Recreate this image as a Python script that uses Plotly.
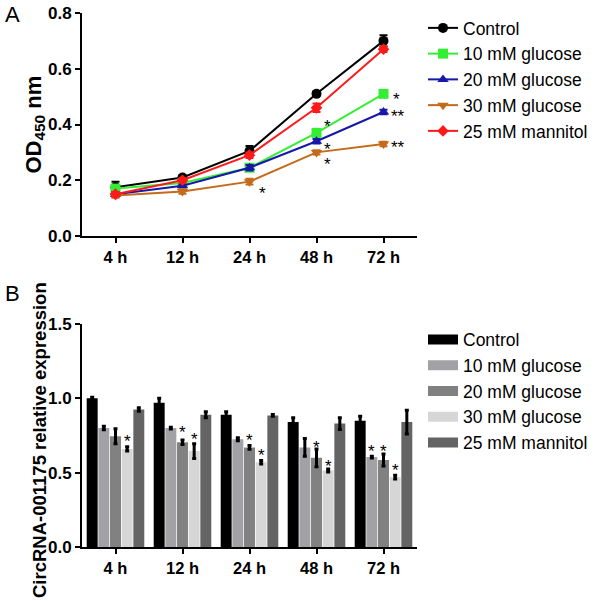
import plotly.graph_objects as go

# ---------------- data ----------------
times = ["4 h", "12 h", "24 h", "48 h", "72 h"]
groups = ["Control", "10 mM glucose", "20 mM glucose", "30 mM glucose", "25 mM mannitol"]

# Panel A: OD450
od_control = [0.175, 0.21, 0.305, 0.51, 0.70]
od_control_err = [0.02, 0.008, 0.018, 0.008, 0.02]
od_glu10 = [0.17, 0.19, 0.245, 0.37, 0.51]
od_glu10_err = [0.01, 0.005, 0.01, 0.008, 0.008]
od_glu20 = [0.15, 0.18, 0.245, 0.34, 0.445]
od_glu20_err = [0.008, 0.005, 0.01, 0.008, 0.008]
od_glu30 = [0.145, 0.16, 0.195, 0.30, 0.33]
od_glu30_err = [0.008, 0.008, 0.01, 0.008, 0.008]
od_mannitol = [0.15, 0.20, 0.29, 0.46, 0.67]
od_mannitol_err = [0.008, 0.008, 0.01, 0.015, 0.01]

# Panel B: CircRNA-001175 relative expression
ex_control = [1.00, 0.97, 0.89, 0.84, 0.85]
ex_control_err = [0.008, 0.03, 0.02, 0.03, 0.03]
ex_glu10 = [0.80, 0.80, 0.725, 0.67, 0.605]
ex_glu10_err = [0.012, 0.006, 0.01, 0.06, 0.006]
ex_glu20 = [0.745, 0.705, 0.67, 0.60, 0.585]
ex_glu20_err = [0.05, 0.015, 0.012, 0.06, 0.04]
ex_glu30 = [0.66, 0.645, 0.57, 0.515, 0.47]
ex_glu30_err = [0.015, 0.05, 0.012, 0.01, 0.012]
ex_mannitol = [0.925, 0.89, 0.885, 0.83, 0.84]
ex_mannitol_err = [0.012, 0.02, 0.006, 0.04, 0.08]

# significance marks: (time index, x offset in category units, y value, text)
sig_a = [(2, 0.19, 0.172, "*"), (3, 0.16, 0.409, "*"), (3, 0.16, 0.330, "*"),
         (3, 0.17, 0.273, "*"), (4, 0.19, 0.509, "*"), (4, 0.22, 0.445, "**"),
         (4, 0.22, 0.337, "**")]
# (time index, group index, y value)
sig_b = [(0, 3, 0.746), (1, 2, 0.807), (1, 3, 0.760), (2, 2, 0.753), (2, 3, 0.646),
         (3, 2, 0.706), (3, 3, 0.572), (4, 1, 0.679), (4, 2, 0.679), (4, 3, 0.545)]

# ---------------- styles ----------------
line_colors = ["#000000", "#33ee33", "#1717a8", "#c46b1b", "#ff1a1a"]
symbols = ["circle", "square", "triangle-up", "triangle-down", "diamond"]
msizes = [10, 10, 10, 10, 9]
bar_colors = ["#000000", "#a2a2a6", "#818181", "#d6d6d6", "#646464"]
FONT = "Liberation Sans, Arial, sans-serif"

W, H = 600, 601
BARGAP = 0.13

fig = go.Figure()

od_vals = [od_control, od_glu10, od_glu20, od_glu30, od_mannitol]
od_errs = [od_control_err, od_glu10_err, od_glu20_err, od_glu30_err, od_mannitol_err]
for i, g in enumerate(groups):
    fig.add_trace(go.Scatter(
        x=times, y=od_vals[i], name=g, mode="lines+markers",
        line=dict(color=line_colors[i], width=2),
        marker=dict(symbol=symbols[i], size=msizes[i], color=line_colors[i]),
        error_y=dict(type="data", array=od_errs[i], color=line_colors[i], thickness=2, width=4),
        xaxis="x", yaxis="y", legend="legend", legendgroup="a%d" % i,
    ))

ex_vals = [ex_control, ex_glu10, ex_glu20, ex_glu30, ex_mannitol]
ex_errs = [ex_control_err, ex_glu10_err, ex_glu20_err, ex_glu30_err, ex_mannitol_err]
for i, g in enumerate(groups):
    fig.add_trace(go.Bar(
        x=times, y=ex_vals[i], name=g, marker=dict(color=bar_colors[i], line=dict(width=0)),
        error_y=dict(type="data", array=ex_errs[i], color="black", thickness=3, width=2),
        xaxis="x2", yaxis="y2", showlegend=False,
    ))
# legend proxies for the bar panel (wide rectangles)
for i, g in enumerate(groups):
    fig.add_trace(go.Scatter(
        x=[None], y=[None], name=g, mode="lines",
        line=dict(color=bar_colors[i], width=14),
        xaxis="x2", yaxis="y2", legend="legend2", legendgroup="b%d" % i,
    ))

annotations = []
for t, dx, yv, txt in sig_a:
    annotations.append(dict(x=t + dx, y=yv, xref="x", yref="y", text=txt, showarrow=False,
                            font=dict(family=FONT, size=17, color="black"),
                            xanchor="center", yanchor="middle", yshift=-5))
nb = len(groups)
bw = (1 - BARGAP) / nb
for t, gi, yv in sig_b:
    xoff = -(1 - BARGAP) / 2 + (gi + 0.5) * bw
    annotations.append(dict(x=t + xoff, y=yv, xref="x2", yref="y2", text="*", showarrow=False,
                            font=dict(family=FONT, size=17, color="black"),
                            xanchor="center", yanchor="middle", yshift=-5))

annotations += [
    dict(text="A", x=12 / W, y=1 - 15 / H, xref="paper", yref="paper", showarrow=False,
         font=dict(family=FONT, size=22, color="black"), xanchor="center", yanchor="middle"),
    dict(text="B", x=12 / W, y=1 - 293 / H, xref="paper", yref="paper", showarrow=False,
         font=dict(family=FONT, size=22, color="black"), xanchor="center", yanchor="middle"),
    dict(text="<b>OD<sub>450</sub> nm</b>", x=34 / W, y=1 - 124.5 / H, xref="paper", yref="paper",
         showarrow=False, textangle=-90, font=dict(family=FONT, size=22, color="black"),
         xanchor="center", yanchor="middle"),
    dict(text="<b>CircRNA-001175 relative expression</b>", x=39 / W, y=1 - 440 / H,
         xref="paper", yref="paper", showarrow=False, textangle=-90,
         font=dict(family=FONT, size=18.5, color="black"), xanchor="center", yanchor="middle"),
]

line_common = dict(showline=True, linewidth=2, linecolor="black", ticks="outside",
                   ticklen=5, tickwidth=2, tickcolor="black", showgrid=False, zeroline=False,
                   automargin=False)
xfont = dict(family=FONT, size=16.5, color="black", weight="bold")
yfont = dict(family=FONT, size=17, color="black", weight="bold")

fig.update_layout(
    width=W, height=H, margin=dict(l=0, r=0, t=0, b=0, autoexpand=False),
    paper_bgcolor="white", plot_bgcolor="white",
    font=dict(family=FONT, color="black"),
    barmode="group", bargap=BARGAP, bargroupgap=0.06,
    xaxis=dict(domain=[82 / W, 417 / W], anchor="y", type="category", range=[-0.5, 4.5],
               tickfont=xfont, **line_common),
    yaxis=dict(domain=[1 - 236 / H, 1 - 13 / H], anchor="x", range=[0, 0.8], dtick=0.2,
               tickformat=".1f", tickfont=yfont, **line_common),
    xaxis2=dict(domain=[82 / W, 417 / W], anchor="y2", type="category", range=[-0.5, 4.5],
                tickfont=xfont, **line_common),
    yaxis2=dict(domain=[1 - 547 / H, 1 - 324 / H], anchor="x2", range=[0, 1.5], dtick=0.5,
                tickformat=".1f", tickfont=yfont, **line_common),
    legend=dict(x=423 / W, y=1 - 10 / H, xanchor="left", yanchor="top",
                font=dict(family=FONT, size=17.5, color="black"), tracegroupgap=0,
                bgcolor="rgba(0,0,0,0)", traceorder="grouped"),
    legend2=dict(x=423 / W, y=1 - 321.5 / H, xanchor="left", yanchor="top",
                 font=dict(family=FONT, size=17.5, color="black"), tracegroupgap=0,
                 bgcolor="rgba(0,0,0,0)", traceorder="grouped"),
    annotations=annotations,
    showlegend=True,
)

fig.write_html("out.html", config={"displayModeBar": False},
               post_script="document.body.style.margin='0px';document.body.style.overflow='hidden';")
